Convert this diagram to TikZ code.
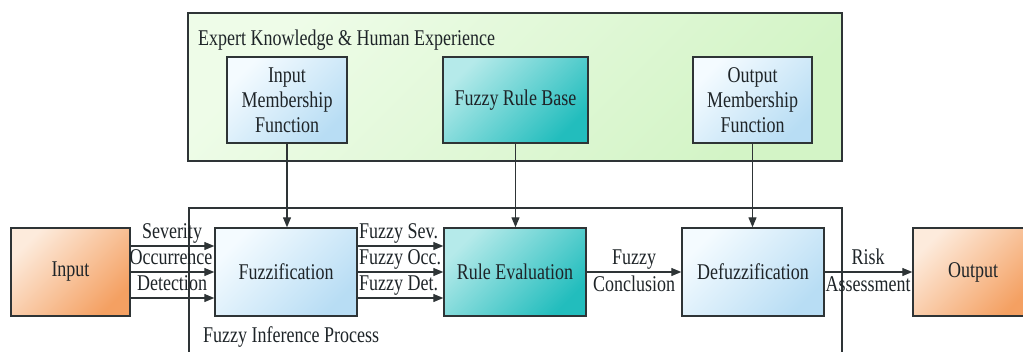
\documentclass[tikz,border=0pt]{standalone}
\usepackage{fontspec}
\setmainfont{Liberation Serif}[FakeStretch=0.8]
\usetikzlibrary{arrows.meta}

\definecolor{linec}{HTML}{2E3436}
\definecolor{txt}{HTML}{1E2428}
\definecolor{blueA}{HTML}{F4FBFF}
\definecolor{blueB}{HTML}{B8DDF4}
\definecolor{tealA}{HTML}{B5EAEA}
\definecolor{tealB}{HTML}{22BDBD}
\definecolor{orangeA}{HTML}{FDEBDC}
\definecolor{orangeB}{HTML}{F4A062}
\definecolor{greenA}{HTML}{EEFCE8}
\definecolor{greenB}{HTML}{D3F4C6}

\tikzset{
  block/.style={draw=linec, line width=1.4pt, minimum height=88pt, align=center,
                inner sep=2pt, text=txt},
  lightblue/.style={top color=blueA, bottom color=blueB, shading angle=45},
  teal/.style={top color=tealA, bottom color=tealB, shading angle=45},
  orange/.style={top color=orangeA, bottom color=orangeB, shading angle=45},
  panel/.style={draw=linec, line width=1.4pt, top color=greenA, bottom color=greenB,
                shading angle=45},
  frame/.style={draw=linec, line width=1.2pt},
  arr/.style={draw=linec, line width=1.2pt, -{Triangle[length=10pt,width=8pt]}},
  lbl/.style={inner sep=0pt, text=txt},
}

\begin{document}
\begin{tikzpicture}[x=1pt, y=-1pt, font=\fontsize{22.5}{25}\selectfont]
\useasboundingbox (0,0) rectangle (1023,351);

% expert knowledge panel
\node[panel, minimum width=654pt, minimum height=148pt] (ek) at (515,87) {};
\node[lbl, anchor=base west] (ektitle) at (198,45) {Expert Knowledge \& Human Experience};

% fuzzy inference process frame (open at the bottom)
\draw[frame] (189,365) |- (842,208) -- (842,365);
\node[lbl, anchor=base west] (fiptitle) at (203,342) {Fuzzy Inference Process};

% knowledge blocks
\node[block, lightblue, minimum width=120pt, minimum height=86pt] (imf) at (287,100) {Input\\Membership\\Function};
\node[block, teal, minimum width=145pt, minimum height=86pt] (frb) at (515.5,100) {Fuzzy Rule Base};
\node[block, lightblue, minimum width=119pt, minimum height=86pt] (omf) at (752.5,100) {Output\\Membership\\Function};

% processing chain
\node[block, orange, minimum width=119pt] (in) at (70.5,272) {Input};
\node[block, lightblue, minimum width=142pt] (fuz) at (286,272) {Fuzzification};
\node[block, teal, minimum width=142pt] (re) at (515,272) {Rule Evaluation};
\node[block, lightblue, minimum width=142pt] (defuz) at (753,272) {Defuzzification};
\node[block, orange, minimum width=120pt] (out) at (973,272) {Output};

% knowledge feeds
\draw[arr] (imf.south) -- (imf.south |- fuz.north);
\draw[arr] (frb.south) -- (frb.south |- re.north);
\draw[arr] (omf.south) -- (omf.south |- defuz.north);

% input to fuzzification
\draw[arr] ([yshift=26pt]in.east) -- ([yshift=26pt]fuz.west);
\draw[arr] (in.east) -- (fuz.west);
\draw[arr] ([yshift=-26pt]in.east) -- ([yshift=-26pt]fuz.west);
\node[lbl, anchor=base] (sev) at (172,238) {Severity};
\node[lbl, anchor=base] (occ) at (171,264) {Occurrence};
\node[lbl, anchor=base] (det) at (172,290) {Detection};

% fuzzification to rule evaluation
\draw[arr] ([yshift=26pt]fuz.east) -- ([yshift=26pt]re.west);
\draw[arr] (fuz.east) -- (re.west);
\draw[arr] ([yshift=-26pt]fuz.east) -- ([yshift=-26pt]re.west);
\node[lbl, anchor=base west] (fsev) at (359,238) {Fuzzy Sev.};
\node[lbl, anchor=base west] (focc) at (359,264) {Fuzzy Occ.};
\node[lbl, anchor=base west] (fdet) at (359,290) {Fuzzy Det.};

% rule evaluation to defuzzification
\draw[arr] (re.east) -- (defuz.west);
\node[lbl, anchor=base] (fz) at (634,264) {Fuzzy};
\node[lbl, anchor=base] (concl) at (634,291) {Conclusion};

% defuzzification to output
\draw[arr] (defuz.east) -- (out.west);
\node[lbl, anchor=base] (risk) at (868,264) {Risk};
\node[lbl, anchor=base] (assess) at (868,291) {Assessment};
\end{tikzpicture}
\end{document}
